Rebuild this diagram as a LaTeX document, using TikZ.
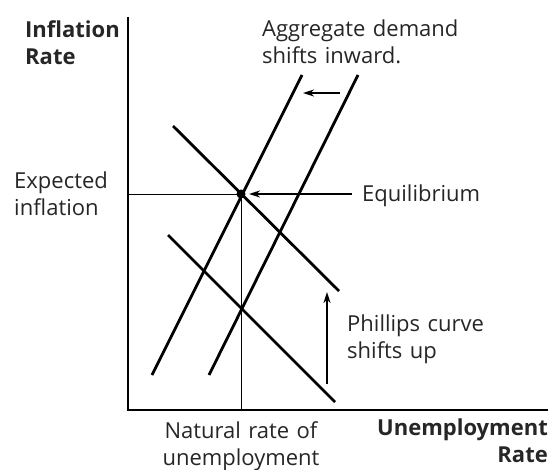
\documentclass[tikz,border=0pt]{standalone}
\usepackage{fontspec}
\setmainfont{Open Sans}[Ligatures=NoCommon,WordSpace=1.3]
\usetikzlibrary{arrows.meta}

\tikzset{
  curve/.style={line width=2.8pt},
  axis/.style={line width=2.6pt},
  guide/.style={line width=0.6pt},
  shiftarrow/.style={line width=2.2pt,-{Stealth[length=11pt,width=7pt]}},
  lbl/.style={inner sep=0pt,align=left,text=black!85,font=\fontsize{22}{27}\selectfont}
}

\begin{document}
\begin{tikzpicture}[x=1pt,y=-1pt]
  \useasboundingbox (0,0) rectangle (551,470);

  % axes
  \draw[axis] (128,17) -- (128,410) -- (548,410);

  % guide lines through equilibrium
  \coordinate (E) at (241,194);
  \draw[guide] (128,194) -- (E) -- (241,410);

  % aggregate demand
  \draw[curve] (152,375) -- (302,75);
  \draw[curve] (209,375) -- (358,75);

  % phillips curves
  \draw[curve] (173,126) -- (339,291);
  \draw[curve] (168,235) -- (335,402);

  \fill (E) circle (4.5);

  % labels
  \node[lbl,anchor=north west,font=\fontsize{22}{27}\selectfont\bfseries] (yl) at (25,20) {Inflation\\Rate};
  \node[lbl,anchor=north west] (adl) at (262,20) {Aggregate demand\\shifts inward.};
  \node[lbl,anchor=north west] (exp) at (14,172) {Expected\\inflation};
  \node[lbl,anchor=west] (eq) at (362,196) {Equilibrium};
  \node[lbl,anchor=north west] (pcl) at (347,315) {Phillips curve\\shifts up};
  \node[lbl,anchor=north,align=center] (nat) at (241,421) {Natural rate of\\unemployment};
  \node[lbl,anchor=north east,align=right,font=\fontsize{22}{27}\selectfont\bfseries] (xl) at (548,419) {Unemployment\\Rate};

  % shifts
  \coordinate (ad0) at (340,93);
  \coordinate (ad1) at (303,93);
  \draw[shiftarrow] (ad0) -- (ad1);
  \coordinate (pc0) at (327,384);
  \coordinate (pc1) at (327,292);
  \draw[shiftarrow] (pc0) -- (pc1);
  \coordinate (eq0) at (352,194);
  \draw[shiftarrow] (eq0) -- ([xshift=8pt]E);
\end{tikzpicture}
\end{document}
